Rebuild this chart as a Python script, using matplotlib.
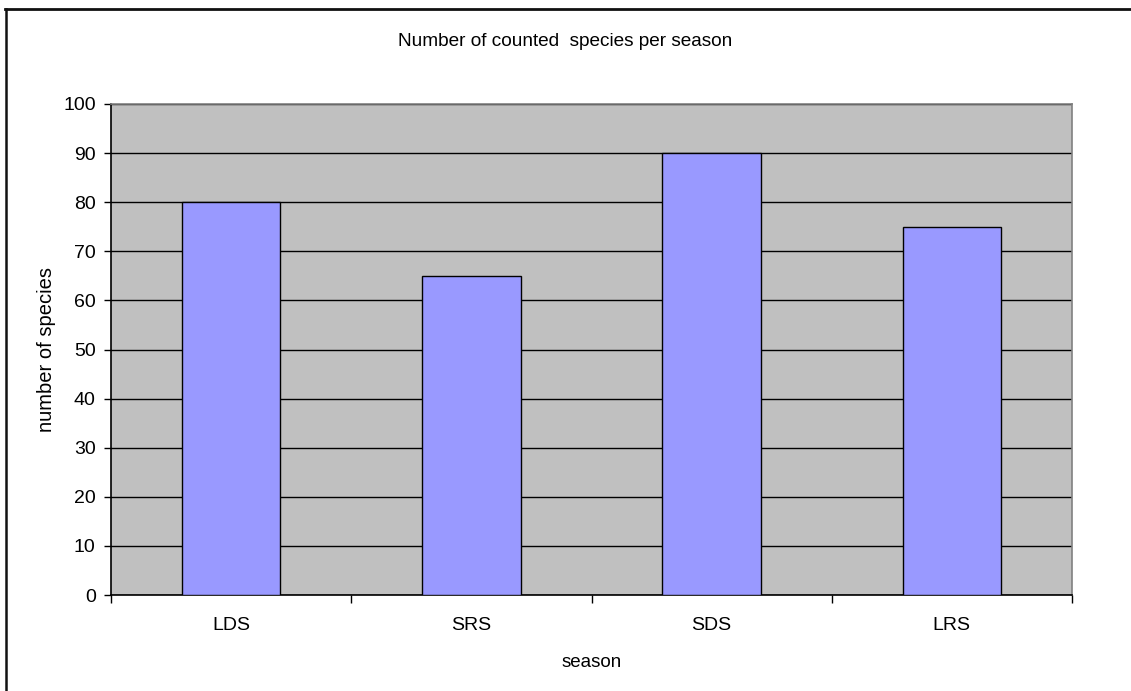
import matplotlib
matplotlib.use("Agg")
import matplotlib.pyplot as plt
from matplotlib.lines import Line2D

seasons = ["LDS", "SRS", "SDS", "LRS"]
species_counts = [80, 65, 90, 75]
y_ticks = [0, 10, 20, 30, 40, 50, 60, 70, 80, 90, 100]

plt.rcParams["font.family"] = ["Liberation Sans", "DejaVu Sans"]

W, H = 1131, 691
fig = plt.figure(figsize=(W / 100, H / 100), dpi=100)

# chart frame: only its top and left edges fall inside the canvas
fig.lines.append(Line2D([6 / W, 6 / W], [0, 1 - 9 / H], transform=fig.transFigure,
                        color="#111111", linewidth=1.8))
fig.lines.append(Line2D([5 / W, 1], [1 - 9.3 / H, 1 - 9.3 / H], transform=fig.transFigure,
                        color="#111111", linewidth=2.0))

left, right, top, bottom = 111, 1072, 104, 595
ax = fig.add_axes([left / W, 1 - bottom / H, (right - left) / W, (bottom - top) / H])
ax.set_facecolor("#C0C0C0")

x = range(len(seasons))
ax.bar(x, species_counts, width=0.41, color="#9999FF", edgecolor="black",
       linewidth=1.0, zorder=3)

ax.set_xlim(-0.5, len(seasons) - 0.5)
ax.set_ylim(0, 100)
ax.set_yticks(y_ticks)
ax.set_xticks(list(x))
ax.set_xticklabels(seasons)
ax.set_xticks([i - 0.5 for i in range(len(seasons) + 1)], minor=True)
ax.tick_params(axis="x", which="major", length=0, pad=16, labelsize=14)
ax.tick_params(axis="x", which="minor", length=6, width=1, color="black")
ax.tick_params(axis="y", length=5, width=1, pad=6, labelsize=14)

ax.yaxis.grid(True, color="black", linewidth=1.0, zorder=1)
ax.set_axisbelow(True)

for side in ("left", "bottom"):
    ax.spines[side].set_color("black")
    ax.spines[side].set_linewidth(1.2)
for side in ("top", "right"):
    ax.spines[side].set_color("#808080")
    ax.spines[side].set_linewidth(1.2)

ax.set_ylabel("number of species", fontsize=14.5, labelpad=5)
ax.set_xlabel("season", fontsize=13.5, labelpad=14)
fig.text(0.5, 1 - 42 / H, "Number of counted  species per season",
         ha="center", va="center", fontsize=13.7)

fig.savefig("out.png", dpi=100)
